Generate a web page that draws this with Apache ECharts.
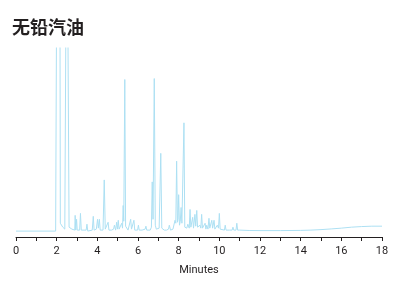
<!DOCTYPE html>
<html>
<head>
<meta charset="utf-8">
<script src="https://cdn.jsdelivr.net/npm/echarts@6/dist/echarts.min.js"></script>
<style>
html,body{margin:0;padding:0;background:#fff;}
#chart{width:412px;height:281px;}
</style>
</head>
<body>
<div id="chart"></div>
<script>
// Retention time (minutes) and detector response (relative units)
var retentionTimes = [
  0, 1.95, 2.00, 2.03, 2.15, 2.18, 2.22, 2.30, 2.40, 2.47, 2.50, 2.58, 2.61, 2.68, 2.75,
  2.89, 2.91, 2.94, 2.98, 3.01, 3.13, 3.17, 3.21, 3.30, 3.45, 3.49, 3.53, 3.75, 3.80, 3.84,
  3.95, 4.01, 4.05, 4.10, 4.14, 4.28, 4.34, 4.39, 4.46, 4.53, 4.57, 4.70, 4.80, 4.84, 4.90,
  4.95, 4.99, 5.03, 5.07, 5.16, 5.20, 5.24, 5.27, 5.30, 5.35, 5.39, 5.42, 5.47, 5.51, 5.60,
  5.64, 5.68, 5.76, 5.80, 5.84, 5.98, 6.02, 6.06, 6.20, 6.35, 6.39, 6.43, 6.60, 6.66, 6.70,
  6.74, 6.80, 6.85, 6.90, 6.98, 7.04, 7.12, 7.17, 7.21, 7.25, 7.29, 7.40, 7.50, 7.54, 7.60,
  7.72, 7.78, 7.82, 7.86, 7.90, 7.94, 7.97, 8.00, 8.04, 8.08, 8.12, 8.16, 8.22, 8.26, 8.30,
  8.35, 8.40, 8.45, 8.52, 8.56, 8.60, 8.65, 8.69, 8.73, 8.77, 8.80, 8.84, 8.89, 8.93, 8.98,
  9.05, 9.09, 9.13, 9.17, 9.22, 9.30, 9.34, 9.38, 9.44, 9.49, 9.53, 9.58, 9.63, 9.67, 9.70,
  9.74, 9.78, 9.85, 9.90, 9.96, 10.00, 10.04, 10.10, 10.25, 10.29, 10.33, 10.50, 10.63, 10.67,
  10.71, 10.82, 10.86, 10.90, 11.00, 11.50, 12.00, 13.00, 14.00, 14.50, 15.00, 15.50, 16.00,
  16.50, 17.00, 17.50, 18.00
];
var detectorSignal = [
  0, 0, 1, 400, 400, 8, 6, 4, 2, 2, 400, 400, 4, 3, 2,
  1, 16, 1, 12, 1, 1, 18, 1, 0, 1, 7, 0, 1, 15, 1,
  2, 12, 3, 12, 1, 1, 52, 2, 1, 9, 1, 1, 2, 6, 1,
  9, 2, 11, 2, 2, 8, 3, 26, 10, 154, 5, 3, 7, 1, 2,
  12, 2, 2, 11, 1, 1, 6, 1, 1, 2, 5, 1, 1, 4, 50,
  12, 155, 6, 2, 2, 3, 79, 3, 2, 5, 1, 1, 2, 6, 1,
  2, 4, 11, 8, 71, 9, 12, 37, 6, 10, 24, 8, 9, 110, 4,
  5, 3, 7, 3, 22, 4, 6, 14, 3, 5, 17, 5, 21, 4, 3,
  6, 3, 17, 3, 2, 8, 2, 6, 2, 13, 3, 5, 11, 3, 2,
  11, 2, 3, 6, 3, 18, 2, 1, 1, 6, 1, 1, 1, 4,
  1, 1, 8, 1, 1, 0.6, 0.5, 0.5, 0.7, 1, 1.5, 2.2, 3,
  4, 4.6, 5, 5
];
var xTickLabels = ['0', '2', '4', '6', '8', '10', '12', '14', '16', '18'];
var chartTitle = '无铅汽油';
var xAxisName = 'Minutes';

var points = retentionTimes.map(function (t, i) { return [t, detectorSignal[i]]; });

var chart = echarts.init(document.getElementById('chart'), null, { renderer: 'canvas' });
chart.setOption({
  animation: false,
  backgroundColor: '#ffffff',
  title: {
    text: chartTitle,
    left: 12,
    top: 18,
    padding: 0,
    textStyle: {
      fontFamily: 'Noto Sans CJK SC',
      fontSize: 18,
      fontWeight: 'bold',
      color: '#231f20'
    }
  },
  grid: { left: 16, right: 30, top: 48, bottom: 41, containLabel: false },
  xAxis: {
    type: 'value',
    min: 0,
    max: 18,
    interval: 1,
    name: xAxisName,
    nameLocation: 'middle',
    nameGap: 28,
    nameTextStyle: { fontFamily: 'Roboto, sans-serif', fontSize: 11, color: '#231f20' },
    axisLine: { show: true, onZero: false, lineStyle: { color: '#231f20', width: 1 } },
    axisTick: { show: true, length: 4, lineStyle: { color: '#231f20', width: 1 } },
    splitLine: { show: false },
    axisLabel: {
      margin: 9,
      fontFamily: 'Roboto, sans-serif',
      fontSize: 11,
      color: '#231f20',
      formatter: function (v) {
        var s = String(v);
        return xTickLabels.indexOf(s) >= 0 ? s : '';
      }
    }
  },
  yAxis: {
    type: 'value',
    min: -6,
    max: 186,
    show: false,
    splitLine: { show: false }
  },
  series: [{
    type: 'line',
    data: points,
    showSymbol: false,
    clip: true,
    lineStyle: { color: '#ade0f3', width: 1 },
    silent: true
  }]
});
</script>
</body>
</html>
